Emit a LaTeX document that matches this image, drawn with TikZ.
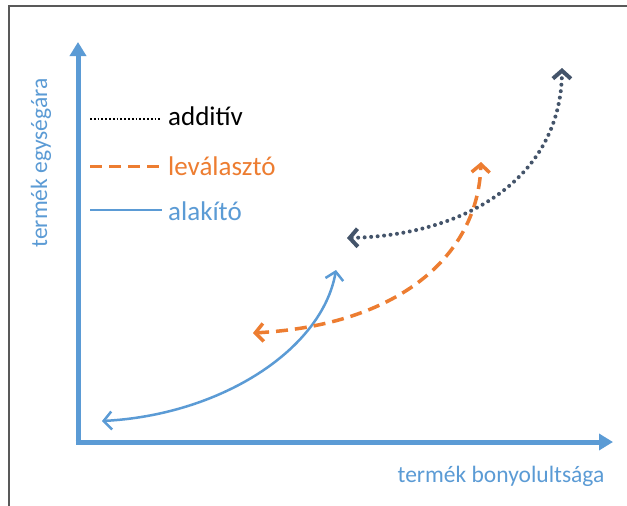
\documentclass[tikz,border=0pt]{standalone}
\usepackage{fontspec}
\setmainfont{Carlito}
\usetikzlibrary{arrows.meta}
\definecolor{axblue}{HTML}{5B9BD5}
\definecolor{oorange}{HTML}{ED7D31}
\definecolor{navy}{HTML}{44546A}
\tikzset{
  axis/.style={axblue, line width=5pt, -{Triangle[length=14pt,width=16pt]}},
  axlabel/.style={text=axblue, font=\fontsize{23.5}{28}\selectfont, inner sep=0pt},
  leglabel/.style={font=\fontsize{27}{32}\selectfont, inner sep=0pt, anchor=base west},
  chev/.style={{Straight Barb[length=8pt,width=18pt]}-{Straight Barb[length=8pt,width=18pt]}},
  formcurve/.style={axblue, line width=2.5pt, chev},
  sepcurve/.style={oorange, line width=3.5pt, dash pattern=on 12pt off 7pt, chev},
  addcurve/.style={navy, line width=4pt, line cap=round, dash pattern=on 0pt off 6.5pt, chev},
}
\begin{document}
\begin{tikzpicture}[x=1pt,y=-1pt]
\useasboundingbox (0,0) rectangle (627,506);
\fill[white] (0,0) rectangle (627,506);
% frame
\draw[gray!70!black, line width=1.5pt] (9,506) -- (9,6) -- (627,6);
% axes
\coordinate (O) at (78,442);
\coordinate (ytip) at (78,42);
\coordinate (xtip) at (613,442);
\draw[axis] (78,444.5) -- (ytip);
\draw[axis] (75.5,442) -- (xtip);
\node[axlabel, rotate=90, anchor=base] (ylab) at (47,163) {termék egységára};
\node[axlabel, anchor=base] (xlab) at (501,482) {termék bonyolultsága};
% legend
\coordinate (l1a) at (90,119); \coordinate (l1b) at (160,119);
\coordinate (l2a) at (90,166); \coordinate (l2b) at (160,166);
\coordinate (l3a) at (90,210); \coordinate (l3b) at (162,210);
\draw[black, line width=1.8pt, dash pattern=on 1.8pt off 2pt] (l1a) -- (l1b);
\draw[oorange, line width=3pt, dash pattern=on 12pt off 7pt] (l2a) -- (l2b);
\draw[axblue, line width=1.8pt] (l3a) -- (l3b);
\node[leglabel, text=black] (ladd) at (168,125) {additív};
\node[leglabel, text=oorange] (lsep) at (168,175) {leválasztó};
\node[leglabel, text=axblue] (lform) at (168,220) {alakító};
% curves
\coordinate (b0) at (102,421); \coordinate (b1) at (336,270);
\draw[formcurve] (b0) .. controls (220,415) and (322,350) .. (b1);
\coordinate (o0) at (253,333); \coordinate (o1) at (481,162);
\draw[sepcurve] (o0) .. controls (400,325) and (478,255) .. (o1);
\coordinate (n0) at (347,238); \coordinate (n1) at (562,68);
\draw[addcurve] (n0) .. controls (470,235) and (561,175) .. (n1);
\end{tikzpicture}
\end{document}
